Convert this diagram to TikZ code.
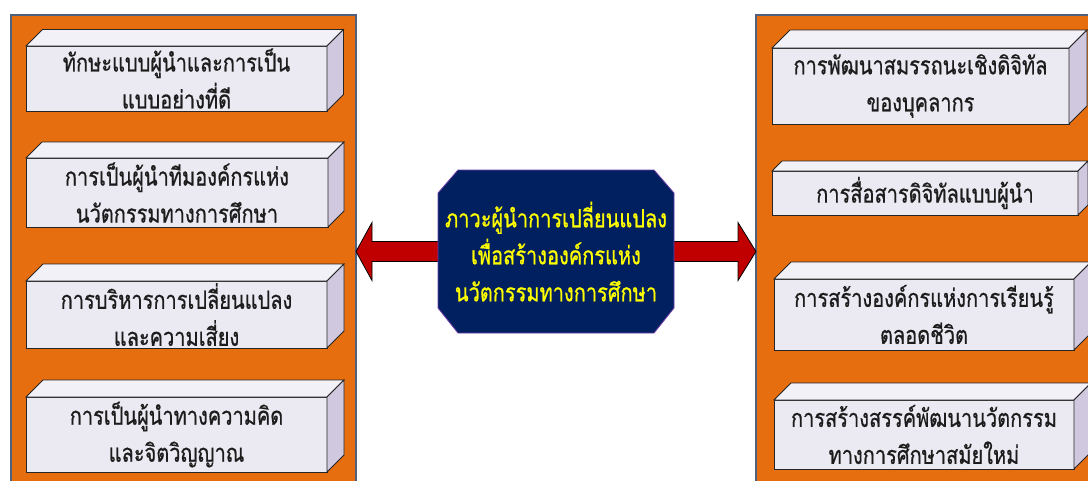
\documentclass[tikz,border=0pt]{standalone}
\usepackage{fontspec}
\newfontfamily\thai[Script=Thai, FakeStretch=0.80, FakeBold=0.7]{Loma}
\usetikzlibrary{calc}

\definecolor{panelorange}{RGB}{230,110,14}
\definecolor{panelline}{RGB}{78,98,128}
\definecolor{frontface}{RGB}{235,233,241}
\definecolor{topface}{RGB}{243,241,248}
\definecolor{sideface}{RGB}{208,200,223}
\definecolor{corefill}{RGB}{0,32,96}
\definecolor{corerim}{RGB}{112,60,170}
\definecolor{arrowred}{RGB}{192,0,0}
\definecolor{labelink}{RGB}{28,28,28}
\definecolor{titleink}{RGB}{255,255,0}

\tikzset{
  panel/.style={draw=panelline, line width=1.2pt, fill=panelorange,
    inner sep=0pt, outer sep=0pt},
  face/.style={draw=black!85, line width=0.8pt, line join=miter},
  frontbox/.style={face, fill=frontface, inner sep=0pt, outer sep=0pt,
    text=labelink, align=center, font={\thai\fontsize{25}{37}\selectfont}},
  redarrow/.style={draw=black, line width=0.8pt, fill=arrowred, line join=miter},
  octagon/.style={draw=corerim, line width=0.8pt, fill=corefill},
  titletext/.style={text=titleink, align=center,
    font={\thai\fontsize{25}{37}\selectfont}}
}

% a raised slab: front face node plus top and side faces
% #1 name, #2 x, #3 y (top-left of front face), #4 width, #5 height, #6 depth, #7 text
\newcommand\slab[7]{%
  \node[frontbox, minimum width=#4, minimum height=#5, anchor=north west] (#1) at (#2,#3) {#7};
  \draw[face, fill=topface] (#1.north west) -- ++(#6,-#6)
    -- ($(#1.north east)+(#6,-#6)$) -- (#1.north east) -- cycle;
  \draw[face, fill=sideface] (#1.north east) -- ++(#6,-#6)
    -- ($(#1.south east)+(#6,-#6)$) -- (#1.south east) -- cycle;
}

\begin{document}
\begin{tikzpicture}[x=1pt, y=-1pt]
\useasboundingbox (0,0) rectangle (1088,480);
\clip (0,0) rectangle (1088,480);
\fill[white] (0,0) rectangle (1088,480);

% side panels
\node[panel, minimum width=345, minimum height=490, anchor=north west] (lpanel) at (11,15) {};
\node[panel, minimum width=360, minimum height=490, anchor=north west] (rpanel) at (756,15) {};

% left column
\slab{l1}{26}{46}{301}{65}{16.5}{ทักษะแบบผู้นำและการเป็น\\แบบอย่างที่ดี}
\slab{l2}{26}{158}{302}{69}{16}{การเป็นผู้นำทีมองค์กรแห่ง\\นวัตกรรมทางการศึกษา}
\slab{l3}{26}{281}{301}{67}{17}{การบริหารการเปลี่ยนแปลง\\และความเสี่ยง}
\slab{l4}{26}{397}{301}{75}{17}{การเป็นผู้นำทางความคิด\\และจิตวิญญาณ}

% right column
\slab{r1}{772}{48}{297}{76}{18}{การพัฒนาสมรรถนะเชิงดิจิทัล\\ของบุคลากร}
\slab{r2}{772}{171}{306}{44}{10}{การสื่อสารดิจิทัลแบบผู้นำ}
\slab{r3}{774}{279}{300}{71}{17}{การสร้างองค์กรแห่งการเรียนรู้\\ตลอดชีวิต}
\slab{r4}{774}{400}{300}{69}{17}{การสร้างสรรค์พัฒนานวัตกรรม\\ทางการศึกษาสมัยใหม่}

% centre block geometry
\node[minimum width=236, minimum height=163, inner sep=0pt, outer sep=0pt] (core) at (556,251.5) {};

% arrows from the centre block out to both panels
\draw[redarrow] (lpanel.east |- core.center) -- ++(16,-29) -- ++(0,19)
  -- ($(core.west)+(12,-10)$) -- ($(core.west)+(12,10)$)
  -- ($(lpanel.east |- core.center)+(16,10)$) -- ++(0,19) -- cycle;
\draw[redarrow] (rpanel.west |- core.center) -- ++(-18,-29) -- ++(0,19)
  -- ($(core.east)+(-12,-10)$) -- ($(core.east)+(-12,10)$)
  -- ($(rpanel.west |- core.center)+(-18,10)$) -- ++(0,19) -- cycle;

% octagonal centre block
\draw[octagon] ($(core.north west)+(20,0)$) -- ($(core.north east)+(-20,0)$)
  -- ($(core.north east)+(0,23)$) -- ($(core.south east)+(0,-25)$)
  -- ($(core.south east)+(-20,0)$) -- ($(core.south west)+(20,0)$)
  -- ($(core.south west)+(0,-25)$) -- ($(core.north west)+(0,23)$) -- cycle;
\node[titletext] (coretext) at (core.center) {ภาวะผู้นำการเปลี่ยนแปลง\\เพื่อสร้างองค์กรแห่ง\\นวัตกรรมทางการศึกษา};
\end{tikzpicture}
\end{document}
